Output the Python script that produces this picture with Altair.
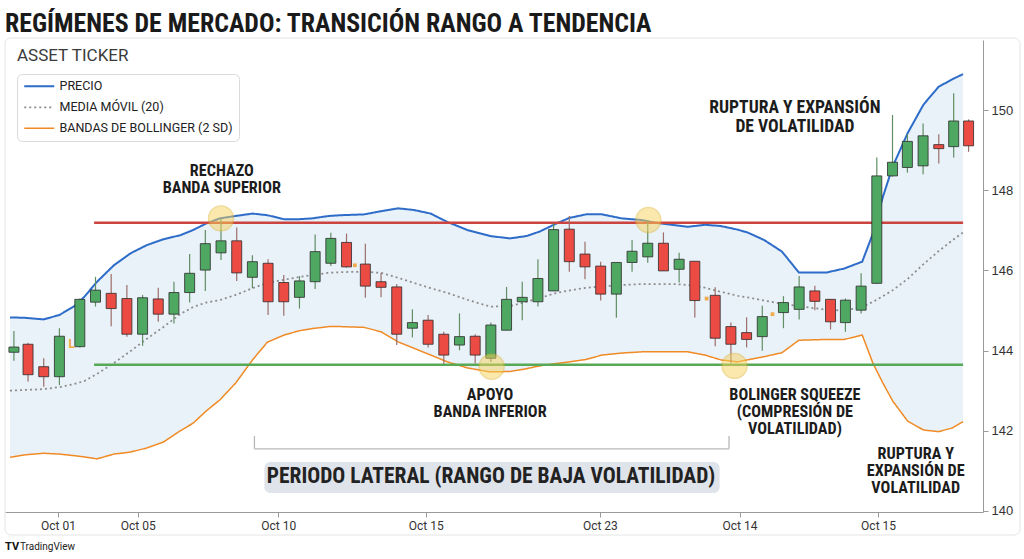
import altair as alt
import pandas as pd

# ---------------- data ----------------
t = [0, 0.9, 1.9, 2.9,
     4.2, 5.2, 6.2, 7.2, 8.2, 9.2, 10.2, 11.2, 12.2, 13.2, 14.2, 15.2, 16.2, 17.2, 18.2, 19.2, 20.2, 21.2,
     22.4, 23.4, 24.4, 25.4, 26.4, 27.4, 28.4, 29.4, 30.4, 31.4, 32.4, 33.4, 34.4, 35.4, 36.4, 37.4,
     38.4, 39.4, 40.4, 41.4, 42.4, 43.4,
     44.7, 45.7, 46.7, 47.7,
     49.05, 50.05, 51.05, 52.05, 53.0, 54.0, 55.0, 56.0, 56.95, 57.95, 58.95, 59.9, 60.85]
open_ = [143.96, 144.16, 143.60, 143.35, 144.10, 145.21, 145.43, 145.30, 144.41, 145.29,
         144.91, 145.45, 146.01, 146.44, 146.74, 145.83, 146.18, 145.70, 145.33, 145.72,
         146.18, 146.70, 146.16, 145.72, 145.59, 144.56, 144.76, 144.41, 144.14, 144.36,
         143.81, 144.51, 145.22, 145.22, 145.49, 147.03, 146.41, 146.11, 145.41, 146.20,
         146.34, 146.68, 146.03, 146.23, 145.38, 144.60, 144.45, 144.35, 144.95, 145.03,
         145.49, 145.28, 144.70, 145.01, 145.68, 148.36, 148.57, 148.61, 149.14, 149.09,
         149.73]
high = [144.49, 144.20, 143.81, 144.56, 145.30, 145.84, 145.91, 145.64, 145.39, 145.57,
        145.72, 146.41, 147.01, 147.30, 147.07, 146.38, 146.28, 145.89, 145.86, 146.90,
        146.94, 146.92, 146.67, 145.94, 145.66, 145.03, 144.89, 144.47, 144.93, 144.41,
        144.70, 145.59, 145.72, 146.28, 147.17, 147.36, 146.72, 146.22, 146.20, 146.76,
        147.26, 146.95, 146.44, 146.23, 145.58, 144.70, 144.83, 145.12, 145.36, 145.86,
        145.62, 145.28, 145.30, 145.93, 148.82, 149.88, 149.40, 149.67, 149.40, 150.42,
        149.77]
low = [143.75, 143.23, 143.10, 143.14, 144.08, 145.10, 144.61, 144.35, 144.12, 144.72,
       144.68, 145.20, 145.49, 146.26, 145.74, 145.56, 144.89, 144.87, 145.05, 145.54,
       146.11, 146.07, 145.32, 145.33, 144.14, 144.33, 144.08, 143.67, 144.01, 143.68,
       143.72, 144.51, 144.76, 145.10, 145.49, 145.97, 145.78, 145.25, 144.82, 145.97,
       146.19, 145.99, 145.70, 144.83, 144.11, 143.68, 144.08, 144.00, 144.56, 144.78,
       145.01, 144.53, 144.47, 144.93, 145.66, 148.34, 148.44, 148.40, 148.67, 148.82,
       148.96]
close = [144.09, 143.40, 143.35, 144.36, 145.28, 145.51, 145.05, 144.41, 145.32, 144.91,
         145.45, 145.93, 146.67, 146.74, 145.94, 146.22, 145.22, 145.22, 145.74, 146.47,
         146.80, 146.09, 145.61, 145.58, 144.41, 144.70, 144.16, 143.89, 144.35, 143.89,
         144.64, 145.28, 145.33, 145.80, 147.02, 146.22, 146.09, 145.41, 146.20, 146.48,
         146.68, 145.99, 146.28, 145.25, 144.31, 144.16, 144.28, 144.85, 145.20, 145.59,
         145.23, 144.72, 145.26, 145.61, 148.36, 148.70, 149.22, 149.36, 149.04, 149.73,
         149.11]

band_t = [-0.25, 0.69, 1.89, 2.90, 3.85, 4.48, 5.30, 6.37, 7.44, 8.45,
          9.53, 10.60, 11.42, 12.24, 13.12, 14.13, 15.21, 16.15, 17.22, 18.23,
          19.01, 20.06, 20.88, 22.33, 23.41, 24.48, 25.49, 26.56, 27.63, 28.90,
          30.35, 31.61, 32.68, 33.50, 34.57, 35.39, 36.47, 37.48, 38.74, 40.00,
          40.88, 42.15, 42.97, 44.04, 45.05, 46.12, 46.75, 47.82, 48.96, 50.03,
          51.80, 52.93, 54.07, 54.76, 55.39, 56.02, 56.97, 57.98, 58.93, 59.81,
          60.50]
upper = [144.83, 144.82, 144.78, 144.89, 145.11, 145.34, 145.72, 146.13, 146.43, 146.63,
         146.78, 146.88, 147.01, 147.17, 147.30, 147.36, 147.42, 147.38, 147.28, 147.28,
         147.30, 147.36, 147.38, 147.40, 147.48, 147.55, 147.51, 147.42, 147.21, 147.01,
         146.86, 146.80, 146.86, 146.97, 147.17, 147.31, 147.40, 147.40, 147.30, 147.26,
         147.19, 147.13, 147.09, 147.14, 147.11, 147.02, 146.95, 146.76, 146.47, 145.95,
         145.95, 146.05, 146.22, 146.93, 147.84, 148.60, 149.43, 150.14, 150.58, 150.77,
         150.90]
lower = [141.34, 141.40, 141.44, 141.42, 141.38, 141.35, 141.30, 141.42, 141.47, 141.57,
         141.72, 142.00, 142.19, 142.49, 142.77, 143.19, 143.77, 144.21, 144.39, 144.50,
         144.55, 144.60, 144.60, 144.58, 144.47, 144.22, 144.06, 143.89, 143.72, 143.57,
         143.47, 143.48, 143.55, 143.62, 143.68, 143.72, 143.78, 143.89, 143.94, 143.97,
         143.97, 143.97, 143.97, 143.89, 143.77, 143.72, 143.77, 143.85, 143.95, 144.26,
         144.28, 144.28, 144.39, 143.68, 143.19, 142.74, 142.24, 142.02, 141.98, 142.07,
         142.23]
ma = [143.00, 143.02, 143.04, 143.09, 143.17, 143.24, 143.42, 143.69, 143.99, 144.29,
      144.59, 144.91, 145.09, 145.20, 145.26, 145.39, 145.56, 145.69, 145.77, 145.84,
      145.89, 145.94, 145.96, 145.97, 145.94, 145.82, 145.69, 145.56, 145.44, 145.27,
      145.10, 145.11, 145.22, 145.31, 145.44, 145.50, 145.57, 145.60, 145.64, 145.66,
      145.66, 145.66, 145.64, 145.57, 145.47, 145.37, 145.33, 145.25, 145.17, 145.11,
      145.02, 145.00, 145.09, 145.22, 145.36, 145.51, 145.79, 146.16, 146.48, 146.75,
      146.95]

series_names = ["PRECIO", "MEDIA MÓVIL (20)", "BANDAS DE BOLLINGER (2 SD)"]

tick_t = [2.81, 7.89, 16.85, 26.25, 37.35, 46.25, 55.08]
tick_labels = ["Oct 01", "Oct 05", "Oct 10", "Oct 15", "Oct 23", "Oct 14", "Oct 15"]
y_ticks = [140, 142, 144, 146, 148, 150]

resistance = 147.19
support = 143.65
level_t = [5.11, 60.5]

circle_t = [13.2, 40.44, 30.45, 45.93]
circle_v = [147.30, 147.26, 143.60, 143.62]

marker_t = [21.73, 44.15, 48.35]
marker_v = [146.13, 145.30, 144.91]
l_mark_t = [3.68]
l_mark_v = [144.16]

title_text = "REGÍMENES DE MERCADO: TRANSICIÓN RANGO A TENDENCIA"
note_text = ["RECHAZO\nBANDA SUPERIOR", "APOYO\nBANDA INFERIOR",
             "BOLINGER SQUEEZE\n(COMPRESIÓN DE\nVOLATILIDAD)", "RUPTURA Y\nEXPANSIÓN DE\nVOLATILIDAD"]
note_t = [13.25, 30.35, 49.78, 57.48]
note_v = [148.67, 143.09, 143.09, 141.62]
top_note = ["RUPTURA Y EXPANSIÓN\nDE VOLATILIDAD"]
top_note_t = [49.78]
top_note_v = [150.27]

period_label = ["PERIODO LATERAL (RANGO DE BAJA VOLATILIDAD)"]
period_box_t = [15.96, 44.98]
period_box_v = [141.22, 140.45]
period_text_t = [30.41]
period_text_v = [140.84]
bracket_t = [15.33, 45.58]
bracket_v = [141.55, 141.87]

# ---------------- styling ----------------
COND = "Liberation Sans Narrow, Roboto Condensed, Roboto, sans-serif"
BLUE = "#2d6cc8"
ORANGE = "#f08a24"
GREY = "#8c8c8c"
UP = "#4fa862"
DOWN = "#ec4b44"

candles = pd.DataFrame({"t": t, "open": open_, "high": high, "low": low, "close": close})
bands = pd.DataFrame({"t": band_t, "upper": upper, "lower": lower})
lines_long = pd.concat([
    pd.DataFrame({"t": band_t, "v": upper, "serie": series_names[0]}),
    pd.DataFrame({"t": band_t, "v": ma, "serie": series_names[1]}),
    pd.DataFrame({"t": band_t, "v": lower, "serie": series_names[2]}),
], ignore_index=True)

xs = alt.Scale(domain=[-0.25, 61.45], nice=False, zero=False)
ys = alt.Scale(domain=[139.975, 151.75], nice=False, zero=False)

label_expr = "[" + ",".join("'%s'" % s for s in tick_labels) + "][indexof([" + \
    ",".join(str(v) for v in tick_t) + "], datum.value)]"

xaxis = alt.Axis(values=tick_t, labelExpr=label_expr, tickSize=5, grid=False,
                 labelFont="Roboto", labelFontSize=12, labelColor="#333333",
                 domainColor="#9a9a9a", tickColor="#9a9a9a", labelPadding=3, title=None)
yaxis = alt.Axis(values=y_ticks, orient="right", tickSize=5, grid=False,
                 labelFont="Liberation Sans", labelFontSize=13, labelColor="#333333",
                 domainColor="#9a9a9a", tickColor="#9a9a9a", labelPadding=3, title=None)

X = alt.X("t:Q", scale=xs, axis=xaxis, title=None)

def Y(field):
    return alt.Y(field, scale=ys, axis=yaxis, title=None)

legend = alt.Legend(orient="none", legendX=12, legendY=34, title=None,
                    symbolType="M-1,0H5", symbolSize=100, symbolStrokeWidth=2,
                    labelFont="Roboto", labelFontSize=12.5,
                    labelColor="#222222", fillColor="white", strokeColor="#d9d9d9",
                    cornerRadius=5, padding=6, rowPadding=8, labelOffset=24, labelLimit=300)

frame = alt.Chart(pd.DataFrame({"a": [0]})).mark_rect(
    fill=None, stroke="#e4e4e4", strokeWidth=1, cornerRadius=6
).encode(x=alt.value(0), x2=alt.value(1015), y=alt.value(-2), y2=alt.value(495))

area = alt.Chart(bands).mark_area(color="#e9f1f9").encode(x=X, y=Y("upper:Q"), y2="lower:Q")

lines = alt.Chart(lines_long).mark_line().encode(
    x=X, y=Y("v:Q"),
    color=alt.Color("serie:N", scale=alt.Scale(domain=series_names, range=[BLUE, GREY, ORANGE]),
                    legend=legend),
    strokeDash=alt.StrokeDash("serie:N", scale=alt.Scale(domain=series_names,
                              range=[[1, 0], [2, 3], [1, 0]]), legend=legend),
    strokeWidth=alt.StrokeWidth("serie:N", scale=alt.Scale(domain=series_names, range=[2, 1.5, 2]),
                                legend=None),
    detail="serie:N",
)

res_df = pd.DataFrame({"t": [level_t[0]], "t1": [level_t[1]], "v": [resistance]})
sup_df = pd.DataFrame({"t": [level_t[0]], "t1": [level_t[1]], "v": [support]})
res_line = alt.Chart(res_df).mark_rule(color="#cc4440", strokeWidth=2.5).encode(
    x=X, x2="t1:Q", y=Y("v:Q"))
sup_line = alt.Chart(sup_df).mark_rule(color="#57a857", strokeWidth=2.5).encode(
    x=X, x2="t1:Q", y=Y("v:Q"))

up_cond = "datum.close >= datum.open"
wicks = alt.Chart(candles).mark_rule(strokeWidth=1.2).encode(
    x=X, y=Y("low:Q"), y2="high:Q",
    color=alt.condition(up_cond, alt.value("#5f8f63"), alt.value("#9c6f6a")))
bodies = alt.Chart(candles).mark_bar(size=10, stroke="#2b2b2b", strokeWidth=0.8).encode(
    x=X, y=Y("open:Q"), y2="close:Q",
    fill=alt.condition(up_cond, alt.value(UP), alt.value(DOWN)))

circles = alt.Chart(pd.DataFrame({"t": circle_t, "v": circle_v})).mark_circle(
    size=620, color="#f6d35b", opacity=0.5, stroke="#e2b93a", strokeWidth=1.5
).encode(x=X, y=Y("v:Q"))

markers = alt.Chart(pd.DataFrame({"t": marker_t, "v": marker_v})).mark_square(
    size=14, color="#f2a33a", opacity=0.9).encode(x=X, y=Y("v:Q"))
l_mark = alt.Chart(pd.DataFrame({"t": l_mark_t, "v": l_mark_v, "s": ["L"]})).mark_text(
    font="Roboto", fontWeight="bold", fontSize=12, color="#f0a73e", baseline="middle"
).encode(x=X, y=Y("v:Q"), text="s:N")

notes = alt.Chart(pd.DataFrame({"t": note_t, "v": note_v, "s": note_text})).mark_text(
    font=COND, fontWeight="bold", fontSize=16.2, lineBreak="\n", lineHeight=17,
    baseline="top", align="center", color="#1c1c1c"
).encode(x=X, y=Y("v:Q"), text="s:N")
top_notes = alt.Chart(pd.DataFrame({"t": top_note_t, "v": top_note_v, "s": top_note})).mark_text(
    font=COND, fontWeight="bold", fontSize=17.6, lineBreak="\n", lineHeight=18.8,
    baseline="top", align="center", color="#1c1c1c"
).encode(x=X, y=Y("v:Q"), text="s:N")

pbox = alt.Chart(pd.DataFrame({"t": [period_box_t[0]], "t1": [period_box_t[1]],
                               "v": [period_box_v[0]], "v1": [period_box_v[1]]})).mark_rect(
    color="#dfe3ea", cornerRadius=6).encode(x=X, x2="t1:Q", y=Y("v:Q"), y2="v1:Q")
ptext = alt.Chart(pd.DataFrame({"t": period_text_t, "v": period_text_v, "s": period_label})).mark_text(
    font=COND, fontWeight="bold", fontSize=21.5, baseline="middle", align="center", color="#222222"
).encode(x=X, y=Y("v:Q"), text="s:N")

br_h = alt.Chart(pd.DataFrame({"t": [bracket_t[0]], "t1": [bracket_t[1]], "v": [bracket_v[0]]})).mark_rule(
    color="#b8b8b8", strokeWidth=1.3).encode(x=X, x2="t1:Q", y=Y("v:Q"))
br_v = alt.Chart(pd.DataFrame({"t": bracket_t, "v": [bracket_v[0]] * 2, "v1": [bracket_v[1]] * 2})).mark_rule(
    color="#b8b8b8", strokeWidth=1.3).encode(x=X, y=Y("v:Q"), y2="v1:Q")

title = alt.Chart(pd.DataFrame({"s": [title_text]})).mark_text(
    font=COND, fontSize=25.8, fontWeight="bold", color="#1a1a1a", align="left", baseline="alphabetic"
).encode(x=alt.value(0), y=alt.value(-8), text="s:N")
ticker = alt.Chart(pd.DataFrame({"s": ["ASSET TICKER"]})).mark_text(
    font="Roboto", fontSize=17, color="#3a3a3a", align="left", baseline="middle"
).encode(x=alt.value(12), y=alt.value(16), text="s:N")
tv_logo = alt.Chart(pd.DataFrame({"s": ["TV"]})).mark_text(
    font="Roboto", fontWeight="bold", fontSize=11, color="#111111", align="left", baseline="middle"
).encode(x=alt.value(0), y=alt.value(507), text="s:N")
tv_text = alt.Chart(pd.DataFrame({"s": ["TradingView"]})).mark_text(
    font="Roboto", fontSize=10, color="#222222", align="left", baseline="middle"
).encode(x=alt.value(15), y=alt.value(507), text="s:N")

chart = alt.layer(
    frame, area, lines, res_line, sup_line, wicks, bodies, circles, markers, l_mark,
    br_h, br_v, pbox, ptext, notes, top_notes, title, ticker, tv_logo, tv_text
).properties(
    width=978, height=472,
    padding={"left": 5, "top": 40, "right": 41, "bottom": 47},
    autosize=alt.AutoSizeParams(type="none"),
).configure_view(stroke=None)

chart.save("out.html", embed_options={"renderer": "svg", "actions": False})
